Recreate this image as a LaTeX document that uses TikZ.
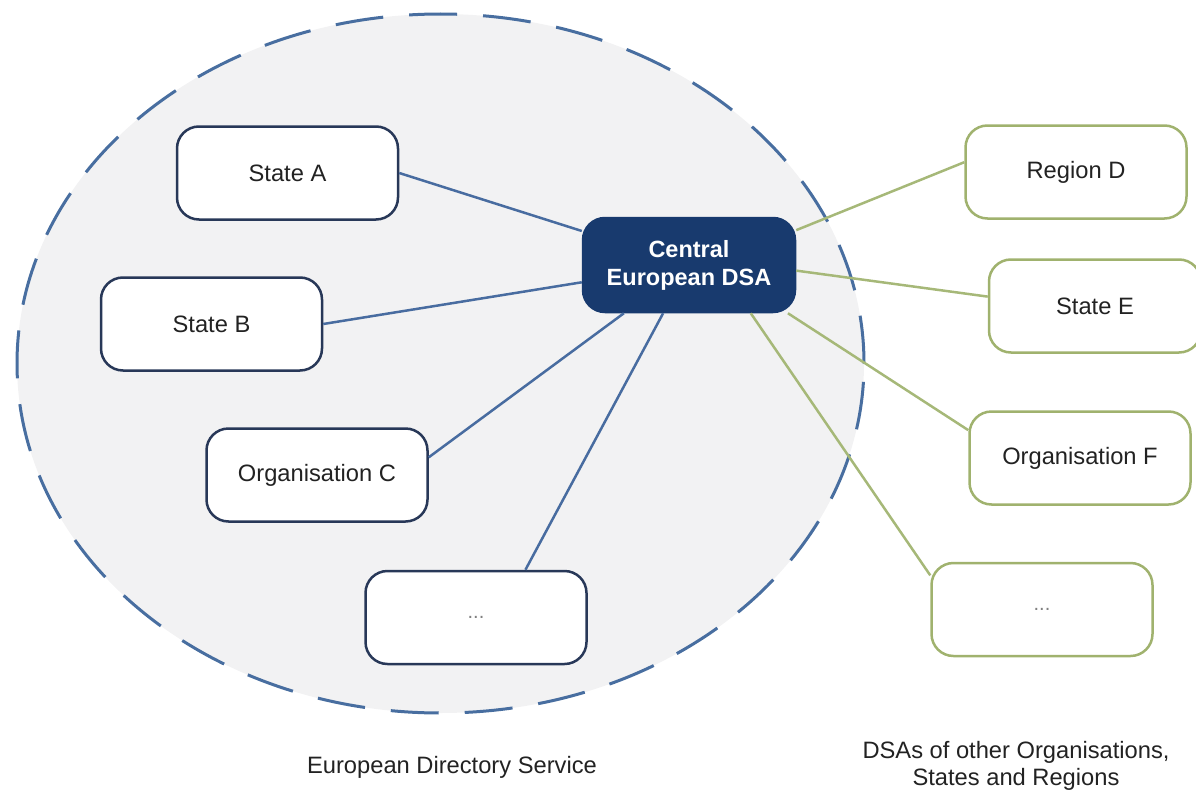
\documentclass[tikz,border=0pt]{standalone}
\usepackage{fontspec}
\setmainfont{Liberation Sans}

\definecolor{cloudfill}{RGB}{242,242,243}
\definecolor{cloudline}{RGB}{72,110,160}
\definecolor{memberborder}{RGB}{40,56,88}
\definecolor{memberline}{RGB}{72,108,160}
\definecolor{centralfill}{RGB}{24,58,110}
\definecolor{otherborder}{RGB}{160,178,110}
\definecolor{otherline}{RGB}{166,184,120}
\definecolor{labeltext}{RGB}{34,34,34}

\begin{document}
\begin{tikzpicture}[x=1pt,y=-1pt]
\tikzstyle{member} = [rounded corners=22pt, draw=memberborder, line width=2.5pt, fill=white, text=labeltext, minimum width=221pt, minimum height=93pt, text centered, font=\fontsize{23.7}{28}\selectfont]
\tikzstyle{other} = [member, draw=otherborder]
\tikzstyle{central} = [member, draw=centralfill, fill=centralfill, text=white, align=center, minimum width=212pt, minimum height=94pt, font=\bfseries\fontsize{23.5}{28}\selectfont]
\tikzstyle{dots} = [font=\fontsize{20}{24}\selectfont, text=gray]
\tikzstyle{memberlink} = [draw=memberline, line width=2.5pt]
\tikzstyle{otherlink} = [draw=otherline, line width=2.5pt]

\useasboundingbox (0,0) rectangle (1196,792);

% the European Directory Service
\filldraw [fill=cloudfill, draw=cloudline, line width=3pt, dash pattern=on 48pt off 26pt]
  (440.5,363.5) ellipse [x radius=423.5pt, y radius=349.5pt];

\node (StateA) [member] at (287.5,173) {State A};
\node (StateB) [member] at (211.5,324) {State B};
\node (OrganisationC) [member] at (317,475) {Organisation C};
\node (MoreMembers) [member, dots] at (476,617.5) {...};
\node (CentralDSA) [central] at (689,265) {Central\\European DSA};

\node (RegionD) [other] at (1076,172) {Region D};
\node (StateE) [other, minimum width=212pt] at (1095,306) {State E};
\node (OrganisationF) [other] at (1080,458) {Organisation F};
\node (MoreOthers) [other, dots] at (1042,609.5) {...};

\draw [memberlink] (StateA.east) -- (CentralDSA);
\draw [memberlink] (StateB.east) -- (CentralDSA);
\draw [memberlink] (OrganisationC.9) -- (CentralDSA);
\draw [memberlink] (MoreMembers.44) -- (CentralDSA);

\draw [otherlink] (CentralDSA.18) -- (RegionD.175);
\draw [otherlink] (CentralDSA.-3) -- (StateE.175);
\draw [otherlink] (CentralDSA.-26) -- (OrganisationF.166);
\draw [otherlink] (CentralDSA.-38) -- (MoreOthers.163);

\node (EuropeanLabel) [text=labeltext, font=\fontsize{23.7}{28}\selectfont] at (452,767) {European Directory Service};
\node (OthersLabel) [text=labeltext, align=center, font=\fontsize{23.7}{27}\selectfont] at (1016,766) {DSAs of other Organisations,\\States and Regions};

\end{tikzpicture}
\end{document}
